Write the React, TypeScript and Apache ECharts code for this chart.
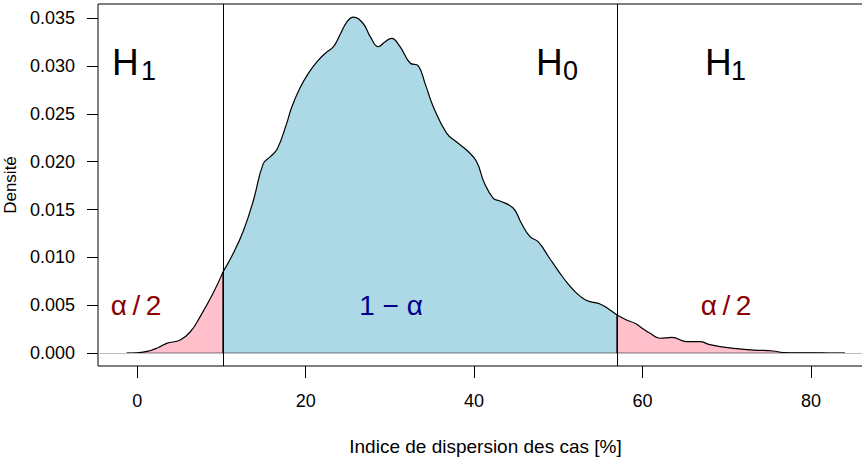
import React, { useEffect, useRef } from "react";
import * as echarts from "echarts";

// Density curve
const densX = [-1.26, 0.0, 1.5, 2.5, 3.5, 5.1, 6.3, 7.45, 9.0, 10.18, 11.4, 12.6, 13.8, 14.96, 15.76, 16.6, 17.74, 18.3, 19.3, 20.3, 21.3, 22.3, 23.3, 24.1, 24.9, 25.65, 26.8, 27.7, 28.62, 29.4, 30.2, 31.2, 32.4, 33.37, 34.2, 35.15, 36.75, 38.0, 39.1, 40.3, 41.2, 42.28, 43.07, 44.66, 45.6, 46.64, 47.6, 48.9, 50.2, 51.2, 52.2, 53.0, 53.76, 54.95, 56.0, 56.97, 58.1, 59.1, 60.0, 60.9, 62.1, 63.5, 65.25, 66.8, 68.0, 69.2, 70.8, 73.2, 75.5, 76.7, 78.5, 80.3, 82.0, 84.05];
const densY = [0.00002, 0.00005, 0.00027, 0.0006, 0.00104, 0.00139, 0.00225, 0.0038, 0.00626, 0.0085, 0.01044, 0.0128, 0.016, 0.0198, 0.0205, 0.0213, 0.024, 0.0256, 0.02766, 0.0292, 0.0304, 0.0313, 0.0320, 0.0333, 0.0346, 0.0351, 0.03445, 0.033, 0.032, 0.0325, 0.03288, 0.0320, 0.0303, 0.0300, 0.0281, 0.02574, 0.02296, 0.022, 0.02122, 0.02, 0.0178, 0.01618, 0.0159, 0.01514, 0.0136, 0.01217, 0.01165, 0.01, 0.00835, 0.0072, 0.00626, 0.0057, 0.00539, 0.00515, 0.0046, 0.004, 0.00348, 0.00313, 0.0026, 0.00209, 0.00157, 0.00167, 0.00121, 0.00121, 0.0009, 0.00069, 0.00052, 0.00034, 0.00024, 0.00008, 0.00005, 0.00005, 0.00003, 0.00002];

// Critical values (quantiles)
const qLow = 10.18;
const qHigh = 56.97;

const xTicks = [0, 20, 40, 60, 80];
const yTicks = [0, 0.005, 0.01, 0.015, 0.02, 0.025, 0.03, 0.035];

const xLabel = "Indice de dispersion des cas [%]";
const yLabel = "Densité";

const FONT = "Liberation Sans";

export default function App() {
  const ref = useRef<HTMLDivElement>(null);
  useEffect(() => {
    if (!ref.current) return;
    const chart = echarts.init(ref.current, null, { renderer: "svg" });
    const pts = densX.map((x, i) => [x, densY[i]]);
    const left = pts.filter((p) => p[0] <= qLow);
    const mid = pts.filter((p) => p[0] >= qLow && p[0] <= qHigh);
    const right = pts.filter((p) => p[0] >= qHigh);
    const yAt = (q: number) => densY[densX.indexOf(q)];

    const areaSeries = (data: number[][], color: string) => ({
      type: "line",
      data,
      showSymbol: false,
      smooth: 0.45,
      lineStyle: { color: "#000", width: 1.2 },
      areaStyle: { color, opacity: 1 },
      silent: true,
      z: 3,
    });

    const hText = (x: number, sx: number, sub: string) => [
      {
        type: "text",
        x,
        y: 62,
        z: 100,
        style: { text: "H", font: `37px '${FONT}'`, fill: "#000", verticalAlign: "middle", align: "left" },
      },
      {
        type: "text",
        x: sx,
        y: 71,
        z: 100,
        style: { text: sub, font: `27px '${FONT}'`, fill: "#000", verticalAlign: "middle", align: "left" },
      },
    ];

    chart.setOption({
      animation: false,
      textStyle: { fontFamily: FONT },
      grid: {
        left: 98,
        top: 4,
        width: 775,
        height: 362,
        show: true,
        borderColor: "#000",
        borderWidth: 1,
        backgroundColor: "transparent",
        outerBoundsMode: "none",
        containLabel: false,
      },
      xAxis: {
        type: "value",
        min: -4.667,
        max: 87.37,
        axisLine: { show: false, onZero: false },
        splitLine: { show: false },
        axisTick: { show: true, length: 12, lineStyle: { color: "#000" }, customValues: xTicks },
        axisLabel: { fontSize: 18, color: "#000", margin: 26, customValues: xTicks, formatter: (v: number) => String(v) },
        name: xLabel,
        nameLocation: "middle",
        nameGap: 71,
        nameTextStyle: { fontSize: 19, color: "#000", fontFamily: FONT },
      },
      yAxis: {
        type: "value",
        min: -0.001326,
        max: 0.03646,
        axisLine: { show: false, onZero: false },
        splitLine: { show: false },
        axisTick: { show: true, length: 11, lineStyle: { color: "#000" }, customValues: yTicks },
        axisLabel: { fontSize: 18, color: "#000", margin: 23, customValues: yTicks, formatter: (v: number) => v.toFixed(3) },
        name: yLabel,
        nameLocation: "middle",
        nameGap: 68,
        nameRotate: 90,
        nameTextStyle: { fontSize: 17, color: "#000", fontFamily: FONT },
      },
      series: [
        {
          type: "line",
          data: [],
          markLine: {
            silent: true,
            symbol: "none",
            label: { show: false },
            lineStyle: { color: "#BEBEBE", width: 1, type: "solid" },
            data: [{ yAxis: 0 }],
          },
          z: 1,
        },
        areaSeries(left, "#FFC0CB"),
        areaSeries(mid, "#ADD8E6"),
        areaSeries(right, "#FFC0CB"),
        {
          type: "line",
          data: [[densX[0], 0], [densX[densX.length - 1], 0]],
          showSymbol: false,
          lineStyle: { color: "#000", width: 1.3 },
          silent: true,
          z: 4,
        },
        {
          type: "line",
          data: [[qLow, 0], [qLow, yAt(qLow)]],
          showSymbol: false,
          lineStyle: { color: "#000", width: 1.3 },
          silent: true,
          z: 4,
        },
        {
          type: "line",
          data: [[qHigh, 0], [qHigh, yAt(qHigh)]],
          showSymbol: false,
          lineStyle: { color: "#000", width: 1.3 },
          silent: true,
          z: 4,
        },
        {
          type: "line",
          data: [],
          markLine: {
            silent: true,
            symbol: "none",
            label: { show: false },
            lineStyle: { color: "#000", width: 1, type: "solid" },
            data: [{ xAxis: qLow }, { xAxis: qHigh }],
          },
          z: 5,
        },
      ],
      graphic: [
        ...hText(112, 141, "1"),
        ...hText(536, 563, "0"),
        ...hText(705, 731, "1"),
        {
          type: "text",
          x: 136,
          y: 305,
          z: 100,
          style: { text: "α\u2009/\u20092", font: `28px '${FONT}'`, fill: "#8B0000", align: "center", verticalAlign: "middle" },
        },
        {
          type: "text",
          x: 391,
          y: 305,
          z: 100,
          style: { text: "1 − α", font: `28px '${FONT}'`, fill: "#00008B", align: "center", verticalAlign: "middle" },
        },
        {
          type: "text",
          x: 726,
          y: 305,
          z: 100,
          style: { text: "α\u2009/\u20092", font: `28px '${FONT}'`, fill: "#8B0000", align: "center", verticalAlign: "middle" },
        },
      ],
    });
    return () => chart.dispose();
  }, []);
  return <div ref={ref} style={{ position: "absolute", left: 0, top: 0, width: 862, height: 463 }} />;
}
